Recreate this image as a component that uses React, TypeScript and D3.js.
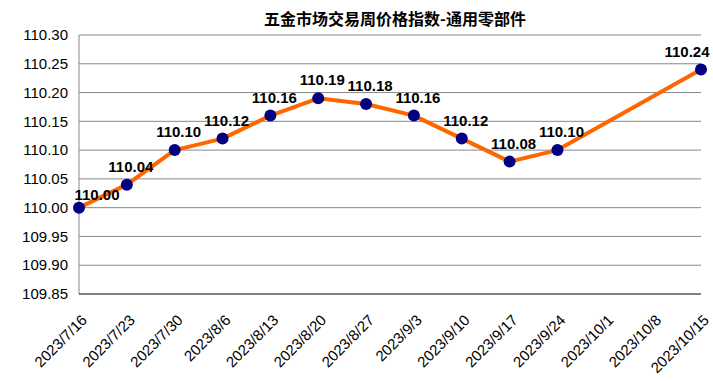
import React from "react";
import * as d3 from "d3";

const categories = ["2023/7/16","2023/7/23","2023/7/30","2023/8/6","2023/8/13","2023/8/20","2023/8/27","2023/9/3","2023/9/10","2023/9/17","2023/9/24","2023/10/1","2023/10/8","2023/10/15"];
const values: (number | null)[] = [110.00,110.04,110.10,110.12,110.16,110.19,110.18,110.16,110.12,110.08,110.10,null,null,110.24];
const yTicks = [109.85,109.90,109.95,110.00,110.05,110.10,110.15,110.20,110.25,110.30];
const title = "五金市场交易周价格指数-通用零部件";

export default function App() {
  const W = 713, H = 381;
  const left = 79, right = 701, top = 35, bottom = 294;
  const x = d3.scalePoint<string>().domain(categories).range([left, right]);
  const y = d3.scaleLinear().domain([109.85, 110.30]).range([bottom, top]);
  const pts = categories.map((c, i) => ({ c, v: values[i], i })).filter(d => d.v != null) as { c: string; v: number; i: number }[];
  const line = d3.line<{ c: string; v: number }>().x(d => x(d.c)!).y(d => y(d.v));
  const font = "Liberation Sans, Arial, sans-serif";
  const half = 22;
  const labelX = (px: number) => Math.max(left - 4 + half, Math.min(px + 4, 709 - half));
  const labelY = (p: { c: string; v: number; i: number }) => y(p.v) - (p.i === 0 ? 8 : 13);
  return (
    <svg width={W} height={H} style={{ position: "absolute", left: 0, top: 0 }}>
      <rect width={W} height={H} fill="#fff" />
      <text x={395} y={25} textAnchor="middle" fontFamily="'Noto Sans CJK SC', sans-serif" fontSize={16} fontWeight="bold" fill="#000">{title}</text>
      {yTicks.map(t => (
        <g key={t}>
          {t > 109.85 && <line x1={left} x2={right} y1={y(t)} y2={y(t)} stroke="#888" strokeWidth={1} />}
          <text x={left - 11} y={y(t)} dy="0.35em" textAnchor="end" fontFamily={font} fontSize={15} fill="#000">{t.toFixed(2)}</text>
        </g>
      ))}
      <line x1={left} x2={left} y1={top} y2={bottom} stroke="#888" strokeWidth={1} />
      <line x1={left} x2={right} y1={bottom} y2={bottom} stroke="#000" strokeWidth={1} />
      {categories.map(c => (
        <text key={c} transform={`translate(${x(c)! + 9},${bottom + 27}) rotate(-45)`} textAnchor="end" fontFamily={font} fontSize={15} fill="#000">{c}</text>
      ))}
      <path d={line(pts)!} fill="none" stroke="#FF6600" strokeWidth={4} strokeLinejoin="round" />
      {pts.map(p => (
        <circle key={p.c} cx={x(p.c)!} cy={y(p.v)} r={6} fill="#000080" />
      ))}
      {pts.map(p => (
        <text key={p.c + "l"} x={labelX(x(p.c)!)} y={labelY(p)} textAnchor="middle" fontFamily={font} fontSize={15} fontWeight="bold" fill="#000">{p.v.toFixed(2)}</text>
      ))}
    </svg>
  );
}
